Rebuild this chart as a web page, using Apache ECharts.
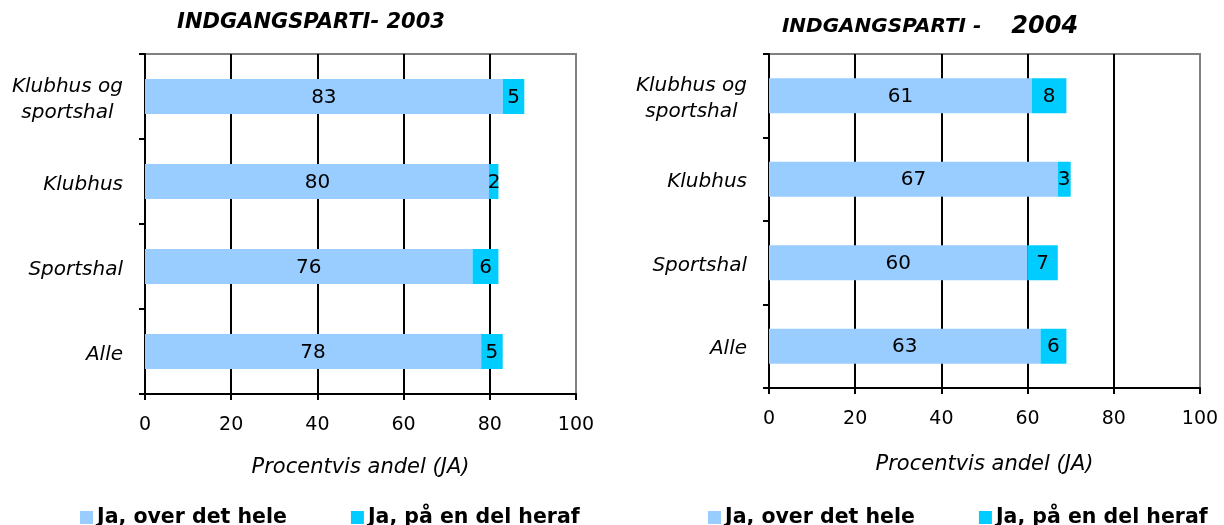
<!DOCTYPE html>
<html>
<head>
<meta charset="utf-8">
<script src="https://cdn.jsdelivr.net/npm/echarts@6.0.0/dist/echarts.min.js"></script>
<style>
  html, body { margin: 0; padding: 0; background: #fff; }
  #chart { width: 1224px; height: 525px; }
</style>
</head>
<body>
<div id="chart"></div>
<script>
const categories = ["Klubhus og\nsportshal", "Klubhus", "Sportshal", "Alle"];
const seriesNames = ["Ja, over det hele", "Ja, på en del heraf"];
const over2003 = [83, 80, 76, 78];
const part2003 = [5, 2, 6, 5];
const over2004 = [61, 67, 60, 63];
const part2004 = [8, 3, 7, 6];
const xTicks = [0, 20, 40, 60, 80, 100];

const FONT = "DejaVu Sans";
const colors = ["#99CCFF", "#00CCFF"];

const chart = echarts.init(document.getElementById("chart"));

function xAxisFor(gridIndex, nameGap) {
  return {
    gridIndex,
    type: "value",
    min: xTicks[0],
    max: xTicks[xTicks.length - 1],
    interval: xTicks[1] - xTicks[0],
    name: "Procentvis andel (JA)",
    nameLocation: "middle",
    nameGap,
    nameTextStyle: { fontFamily: FONT, fontStyle: "italic", fontSize: 21, color: "#000" },
    axisLine: { show: true, lineStyle: { color: "#000", width: 2 } },
    axisTick: { show: true, length: 6, lineStyle: { color: "#000", width: 2 } },
    axisLabel: { fontFamily: FONT, fontSize: 19, color: "#000", margin: 22 },
    splitLine: {
      show: true,
      showMinLine: false,
      showMaxLine: false,
      lineStyle: { color: "#000", width: 2 },
    },
  };
}

function yAxisFor(gridIndex) {
  return {
    gridIndex,
    type: "category",
    inverse: true,
    data: categories,
    axisLine: { show: true, lineStyle: { color: "#000", width: 2 } },
    axisTick: { show: true, length: 6, lineStyle: { color: "#000", width: 2 } },
    axisLabel: {
      fontFamily: FONT,
      fontStyle: "italic",
      fontSize: 20,
      color: "#000",
      margin: 22,
      lineHeight: 26,
      padding: [6, 0, 0, 0],
      formatter: (v) => v.split("\n").map((s) => "{c|" + s + "}").join("\n"),
      rich: { c: { align: "center", fontFamily: FONT, fontStyle: "italic", fontSize: 20, lineHeight: 26 } },
    },
    splitLine: { show: false },
  };
}

function barSeries(name, data, idx, color, stack) {
  return {
    name,
    type: "bar",
    stack,
    xAxisIndex: idx,
    yAxisIndex: idx,
    data,
    barWidth: 35,
    itemStyle: { color },
    label: {
      show: true,
      position: "inside",
      offset: [0, 1],
      color: "#000",
      fontFamily: FONT,
      fontSize: 20,
    },
  };
}

function legendFor(left) {
  return {
    left,
    top: 507,
    padding: 0,
    data: seriesNames,
    itemWidth: 13,
    itemHeight: 13,
    itemGap: 64,
    icon: "rect",
    selectedMode: false,
    textStyle: { fontFamily: FONT, fontWeight: "bold", fontSize: 20.5, color: "#000", padding: [0, 0, 0, -1] },
  };
}

chart.setOption({
  animation: false,
  color: colors,
  title: [
    {
      text: "INDGANGSPARTI- 2003",
      left: 311,
      top: 12,
      padding: 0,
      textAlign: "center",
      textStyle: { fontFamily: FONT, fontWeight: "bold", fontStyle: "italic", fontSize: 21, color: "#000" },
    },
    {
      text: "{a|INDGANGSPARTI -}      {b|2004}",
      left: 930,
      top: 15,
      padding: 0,
      textAlign: "center",
      textStyle: {
        rich: {
          a: { fontFamily: FONT, fontWeight: "bold", fontStyle: "italic", fontSize: 20, color: "#000" },
          b: { fontFamily: FONT, fontWeight: "bold", fontStyle: "italic", fontSize: 24, color: "#000" },
        },
      },
    },
  ],
  legend: [legendFor(80), legendFor(708)],
  grid: [
    { left: 145, right: 1224 - 576, top: 54, bottom: 525 - 394, show: true, borderColor: "#808080", borderWidth: 2, outerBoundsMode: "none" },
    { left: 769, right: 24, top: 54, bottom: 525 - 388, show: true, borderColor: "#808080", borderWidth: 2, outerBoundsMode: "none" },
  ],
  xAxis: [xAxisFor(0, 63), xAxisFor(1, 66)],
  yAxis: [yAxisFor(0), yAxisFor(1)],
  series: [
    barSeries(seriesNames[0], over2003, 0, colors[0], "y2003"),
    barSeries(seriesNames[1], part2003, 0, colors[1], "y2003"),
    barSeries(seriesNames[0], over2004, 1, colors[0], "y2004"),
    barSeries(seriesNames[1], part2004, 1, colors[1], "y2004"),
  ],
});

window.addEventListener("resize", () => chart.resize());
</script>
</body>
</html>
